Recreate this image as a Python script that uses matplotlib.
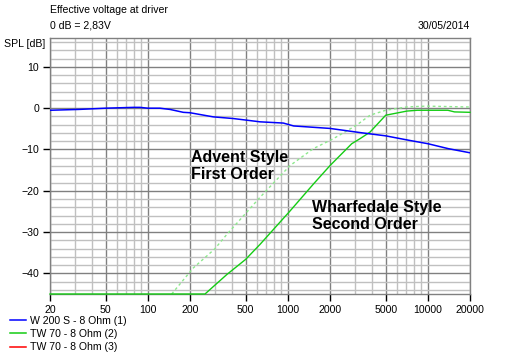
import matplotlib
matplotlib.use('Agg')
import matplotlib.pyplot as plt
from matplotlib.lines import Line2D

plt.rcParams['font.family'] = ['Liberation Sans', 'DejaVu Sans']

# W 200 S - 8 Ohm (1), woofer
woofer_f = [20, 32, 50, 79, 88, 100, 122, 144, 179, 200, 293, 406, 508, 632, 928, 1100,
            2000, 3270, 5000, 7400, 10000, 14000, 20000]
woofer_db = [-0.5, -0.3, 0.0, 0.2, 0.2, 0.0, 0.0, -0.3, -1.0, -1.1, -2.1, -2.5, -2.9, -3.3,
             -3.6, -4.3, -4.9, -5.9, -6.7, -7.8, -8.6, -9.8, -10.8]

# TW 70 - 8 Ohm (2), second order (Wharfedale)
tw2_f = [20, 256, 366, 500, 632, 1036, 1520, 2000, 2860, 3270, 3860, 5000, 7080, 8400,
         13900, 15500, 20000]
tw2_db = [-45, -45, -40.3, -36.6, -33.0, -24.9, -18.4, -13.9, -8.6, -7.4, -5.8, -1.7,
          -0.7, -0.5, -0.5, -0.9, -1.0]

# TW 70 - 8 Ohm, first order (Advent), dashed
tw1_f = [148, 211, 300, 366, 632, 1036, 1520, 2110, 3100, 3860, 5000, 7080, 9700, 19000, 20000]
tw1_db = [-45.0, -38.7, -34.1, -30.6, -21.6, -13.9, -9.8, -7.4, -4.1, -1.7, -0.5, 0.3,
          0.5, 0.3, 0.3]

x_ticks = [20, 50, 100, 200, 500, 1000, 2000, 5000, 10000, 20000]
x_minor = [30, 40, 60, 70, 80, 90, 300, 400, 600, 700, 800, 900,
           3000, 4000, 6000, 7000, 8000, 9000]
y_ticks = [-40, -30, -20, -10, 0, 10]
legend_labels = ['W 200 S - 8 Ohm (1)', 'TW 70 - 8 Ohm (2)', 'TW 70 - 8 Ohm (3)']

W, H = 519, 358
fig = plt.figure(figsize=(W / 100, H / 100), dpi=100)
ax = fig.add_axes([50 / W, 1 - 294 / H, 420 / W, 256 / H])

ax.plot(tw1_f, tw1_db, color='#8de88d', linewidth=1.0, linestyle=(0, (2, 2)), zorder=3)
ax.plot(tw2_f, tw2_db, color='#14cc14', linewidth=1.0, zorder=4, clip_on=False)
ax.plot(woofer_f, woofer_db, color='#0000ff', linewidth=1.1, zorder=5)

ax.set_xscale('log')
ax.set_xlim(20, 20000)
ax.set_ylim(-45, 17)
ax.set_xticks(x_ticks)
ax.set_xticklabels([str(v) for v in x_ticks])
ax.set_xticks(x_minor, minor=True)
ax.set_yticks(y_ticks)
ax.set_yticks(range(-44, 17, 2), minor=True)
ax.tick_params(which='major', direction='out', length=5, width=1, color='black',
               labelsize=7.6, pad=3)
ax.tick_params(which='minor', length=0)
ax.grid(which='major', color='#808080', linewidth=1.0, zorder=1)
ax.grid(which='minor', color='#c0c0c0', linewidth=1.0, zorder=0)
ax.set_axisbelow(True)
for s in ax.spines.values():
    s.set_color('#808080')
    s.set_linewidth(1.0)

fig.text(50 / W, 1 - 10 / H, 'Effective voltage at driver', fontsize=7.6, va='center')
fig.text(50 / W, 1 - 26 / H, '0 dB = 2,83V', fontsize=7.6, va='center')
fig.text(470 / W, 1 - 26 / H, '30/05/2014', fontsize=7.6, va='center', ha='right')
fig.text(45 / W, 1 - 44 / H, 'SPL [dB]', fontsize=7.6, va='center', ha='right')

fig.text(191 / W, 1 - 166 / H, 'Advent Style\nFirst Order', fontsize=11.5,
         fontweight='bold', va='center', linespacing=1.2)
fig.text(312 / W, 1 - 216 / H, 'Wharfedale Style\nSecond Order', fontsize=11.5,
         fontweight='bold', va='center', linespacing=1.2)

handles = [Line2D([], [], color=c, linewidth=1.1) for c in ['#0000ff', '#14cc14', '#ff0000']]
fig.legend(handles, legend_labels, loc='upper left', bbox_to_anchor=(10 / W, 1 - 316 / H),
           frameon=False, fontsize=7.6, handlelength=1.5, handletextpad=0.4,
           labelspacing=0.3, borderpad=0, borderaxespad=0)

fig.savefig('out.png', dpi=100)
